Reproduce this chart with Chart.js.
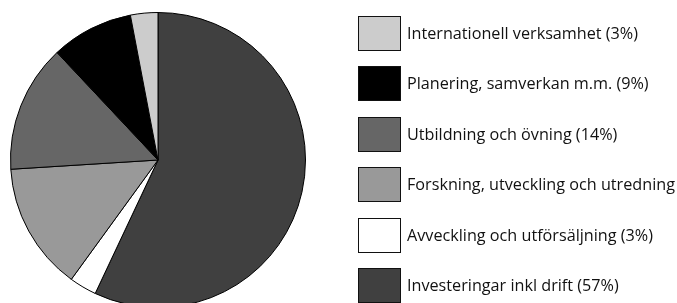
<!DOCTYPE html>
<html>
<head>
<meta charset="utf-8">
<script src="https://cdn.jsdelivr.net/npm/chart.js@4"></script>
<style>
  html, body { margin: 0; padding: 0; background: #fff; overflow: hidden; }
  #wrap { position: relative; width: 677px; height: 320px; }
  #chart { position: absolute; left: 0; top: 0; }
  #legend { position: absolute; left: 358px; top: 16px; width: 319px; overflow: hidden; }
  .item { position: absolute; left: 0; height: 34px; white-space: nowrap; }
  .box { position: absolute; left: 0; top: 0; width: 41px; height: 33px; border: 1px solid #111; box-sizing: content-box; }
  .txt { position: absolute; left: 49px; top: 0; line-height: 34px; font-family: "Open Sans", sans-serif; font-size: 16.2px; color: #111; }
</style>
</head>
<body>
<div id="wrap">
  <canvas id="chart" width="677" height="320"></canvas>
  <div id="legend"></div>
</div>
<script>
const categories = [
  "Investeringar inkl drift (57%)",
  "Avveckling och utförsäljning (3%)",
  "Forskning, utveckling och utredning (14%)",
  "Utbildning och övning (14%)",
  "Planering, samverkan m.m. (9%)",
  "Internationell verksamhet (3%)"
];
const values = [57, 3, 14, 14, 9, 3];
const colors = ["#404040", "#ffffff", "#999999", "#666666", "#000000", "#cccccc"];

const canvas = document.getElementById('chart');
const chart = new Chart(canvas, {
  type: 'pie',
  data: {
    labels: categories,
    datasets: [{
      data: values,
      backgroundColor: colors,
      borderColor: "#000000",
      borderWidth: 1
    }]
  },
  options: {
    responsive: false,
    animation: false,
    layout: { padding: { left: 10, top: 12, right: 371, bottom: 12 } },
    plugins: {
      legend: { display: false },
      tooltip: { enabled: false }
    }
  }
});

// Legend built from the same arrays, listed in reverse order
const legend = document.getElementById('legend');
legend.style.height = '304px';
const order = categories.map((_, i) => i).reverse();
order.forEach((idx, row) => {
  const item = document.createElement('div');
  item.className = 'item';
  item.style.top = (row * 50.4) + 'px';
  const box = document.createElement('div');
  box.className = 'box';
  box.style.background = colors[idx];
  const txt = document.createElement('div');
  txt.className = 'txt';
  txt.textContent = categories[idx];
  item.appendChild(box);
  item.appendChild(txt);
  legend.appendChild(item);
});
</script>
</body>
</html>
